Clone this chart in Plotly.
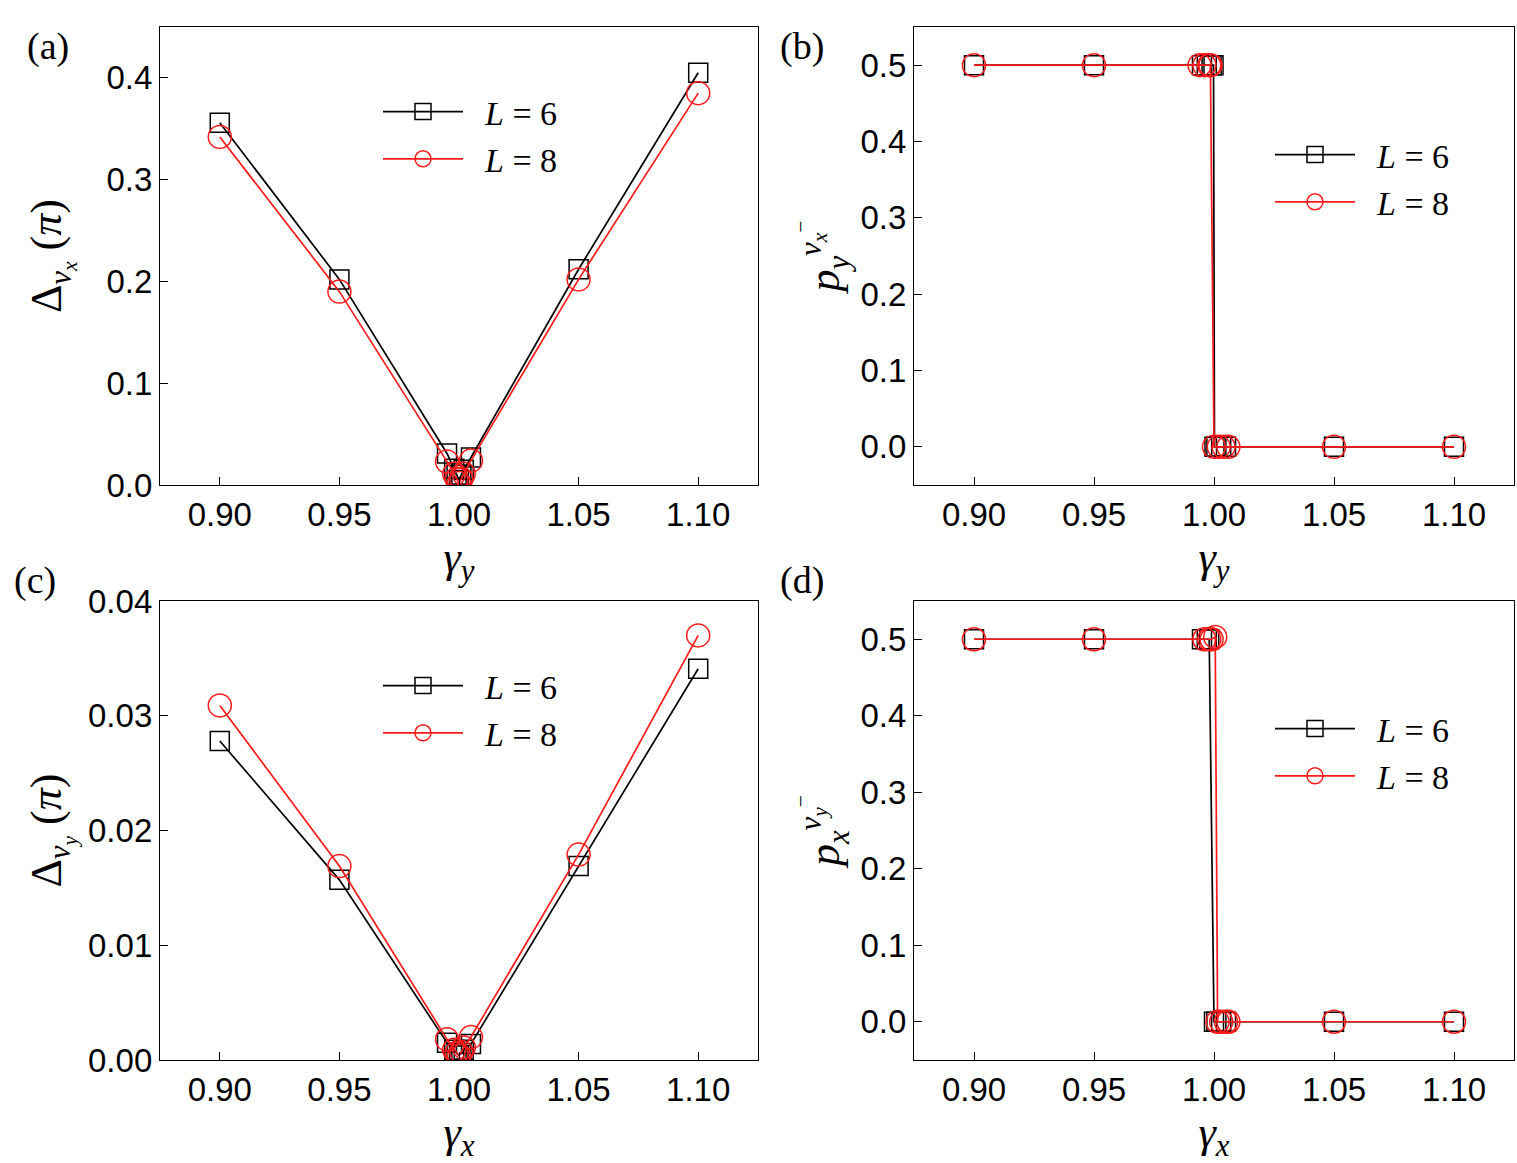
import plotly.graph_objects as go

# ---------------- data ----------------
gamma_a = [0.90, 0.95, 0.995, 0.998, 0.999, 1.000, 1.001, 1.002, 1.005, 1.05, 1.10]
a_L6 = [0.356, 0.202, 0.031, 0.016, 0.010, 0.005, 0.010, 0.015, 0.027, 0.212, 0.405]
a_L8 = [0.342, 0.190, 0.023, 0.011, 0.006, 0.002, 0.006, 0.011, 0.024, 0.202, 0.385]

gamma_b6 = [0.90, 0.95, 0.995, 0.997, 0.999, 0.9998, 1.0002, 1.001, 1.003, 1.005, 1.05, 1.10]
b_L6 = [0.5, 0.5, 0.5, 0.5, 0.5, 0.5, 0.0, 0.0, 0.0, 0.0, 0.0, 0.0]
gamma_b8 = [0.90, 0.95, 0.994, 0.996, 0.998, 0.9985, 1.000, 1.002, 1.004, 1.006, 1.05, 1.10]
b_L8 = [0.5, 0.5, 0.5, 0.5, 0.5, 0.5, 0.0, 0.0, 0.0, 0.0, 0.0, 0.0]

gamma_c = [0.90, 0.95, 0.995, 0.998, 0.999, 1.000, 1.001, 1.002, 1.005, 1.05, 1.10]
c_L6 = [0.0278, 0.0157, 0.0015, 0.0009, 0.0006, 0.0004, 0.0006, 0.0009, 0.0014, 0.0169, 0.0341]
c_L8 = [0.0309, 0.0169, 0.0018, 0.0009, 0.0006, 0.0004, 0.0007, 0.0011, 0.0020, 0.0179, 0.0370]

gamma_d6 = [0.90, 0.95, 0.995, 0.997, 0.998, 1.000, 1.001, 1.003, 1.005, 1.05, 1.10]
d_L6 = [0.5, 0.5, 0.5, 0.5, 0.5, 0.0, 0.0, 0.0, 0.0, 0.0, 0.0]
gamma_d8 = [0.90, 0.95, 0.996, 0.998, 0.999, 1.0005, 1.0015, 1.003, 1.005, 1.006, 1.05, 1.10]
d_L8 = [0.5, 0.5, 0.5, 0.5, 0.5, 0.503, 0.0, 0.0, 0.0, 0.0, 0.0, 0.0]

x_ticks = [0.90, 0.95, 1.00, 1.05, 1.10]
series_names = ["&nbsp;&nbsp;<i>L</i> = 6", "&nbsp;&nbsp;<i>L</i> = 8"]

# ---------------- figure ----------------
W, H = 1517, 1163
BLACK, RED = "#000000", "#ff1a1a"
TICKFONT = dict(family="Liberation Sans, Arial", size=33, color="black")
SERIF = "Liberation Serif, Times New Roman"

fig = go.Figure()

def px_x(p):
    return p / W

def px_y(p):
    return 1 - p / H

panels = [
    ("x", "y", gamma_a, a_L6, gamma_a, a_L8, "legend"),
    ("x2", "y2", gamma_b6, b_L6, gamma_b8, b_L8, "legend2"),
    ("x3", "y3", gamma_c, c_L6, gamma_c, c_L8, "legend3"),
    ("x4", "y4", gamma_d6, d_L6, gamma_d8, d_L8, "legend4"),
]

for xa, ya, x6, y6, x8, y8, lg in panels:
    fig.add_trace(go.Scatter(
        x=x6, y=y6, xaxis=xa, yaxis=ya, name=series_names[0], legend=lg,
        mode="lines+markers",
        line=dict(color=BLACK, width=1.7),
        marker=dict(symbol="square-open", size=19, color=BLACK, line=dict(width=1.5)),
    ))
    fig.add_trace(go.Scatter(
        x=x8, y=y8, xaxis=xa, yaxis=ya, name=series_names[1], legend=lg,
        mode="lines+markers",
        line=dict(color=RED, width=1.7),
        marker=dict(symbol="circle-open", size=23, color=RED, line=dict(width=1.5)),
    ))

left_dom = [px_x(160), px_x(758)]
right_dom = [px_x(914), px_x(1514)]
top_dom = [px_y(485), px_y(27)]
bot_dom = [px_y(1060), px_y(601)]

common_x = dict(
    range=[0.875, 1.125], tickvals=x_ticks, tickformat=".2f",
    ticks="inside", ticklen=8, tickwidth=1.3, tickcolor="black",
    showline=True, linecolor="black", linewidth=1.3, mirror=True,
    showgrid=False, zeroline=False, tickfont=TICKFONT, automargin=False,
    title=dict(font=dict(family=SERIF, size=44, color="black"), standoff=0),
)
common_y = dict(
    ticks="inside", ticklen=8, tickwidth=1.3, tickcolor="black",
    showline=True, linecolor="black", linewidth=1.3, mirror=True,
    showgrid=False, zeroline=False, tickfont=TICKFONT, automargin=False,
    title=dict(font=dict(family=SERIF, size=44, color="black")),
)

def merge(base, **kw):
    d = {k: (dict(v) if isinstance(v, dict) else v) for k, v in base.items()}
    for k, v in kw.items():
        if isinstance(v, dict) and k in d and isinstance(d[k], dict):
            d[k].update(v)
        else:
            d[k] = v
    return d

fig.update_layout(
    width=W, height=H,
    margin=dict(l=0, r=0, t=0, b=0),
    paper_bgcolor="white", plot_bgcolor="white",
    xaxis=merge(common_x, domain=left_dom, anchor="y", title=dict(text="<i>γ<sub>y</sub></i>")),
    yaxis=merge(common_y, domain=top_dom, anchor="x", range=[0, 0.45],
                tickvals=[0, 0.1, 0.2, 0.3, 0.4], tickformat=".1f",
                title=dict(text="Δ<sub><i>ν</i><sub><i>x</i></sub></sub> (<i>π</i>)", standoff=30)),
    xaxis2=merge(common_x, domain=right_dom, anchor="y2", title=dict(text="<i>γ<sub>y</sub></i>")),
    yaxis2=merge(common_y, domain=top_dom, anchor="x2", range=[-0.05, 0.55],
                 tickvals=[0, 0.1, 0.2, 0.3, 0.4, 0.5], tickformat=".1f",
                 title=dict(text="<i>p</i><sub><i>y</i></sub><sup><i>ν</i><sub><i>x</i></sub><sup>−</sup></sup>", standoff=6)),
    xaxis3=merge(common_x, domain=left_dom, anchor="y3", title=dict(text="<i>γ<sub>x</sub></i>")),
    yaxis3=merge(common_y, domain=bot_dom, anchor="x3", range=[0, 0.04],
                 tickvals=[0, 0.01, 0.02, 0.03, 0.04], tickformat=".2f",
                 title=dict(text="Δ<sub><i>ν</i><sub><i>y</i></sub></sub> (<i>π</i>)", standoff=12)),
    xaxis4=merge(common_x, domain=right_dom, anchor="y4", title=dict(text="<i>γ<sub>x</sub></i>")),
    yaxis4=merge(common_y, domain=bot_dom, anchor="x4", range=[-0.05, 0.55],
                 tickvals=[0, 0.1, 0.2, 0.3, 0.4, 0.5], tickformat=".1f",
                 title=dict(text="<i>p</i><sub><i>x</i></sub><sup><i>ν</i><sub><i>y</i></sub><sup>−</sup></sup>", standoff=6)),
    showlegend=True,
)

leg_common = dict(
    bgcolor="rgba(0,0,0,0)", borderwidth=0,
    font=dict(family=SERIF, size=34, color="black"),
    itemwidth=80, xanchor="left", yanchor="top", tracegroupgap=4,
)
fig.update_layout(
    legend=dict(leg_common, x=px_x(378), y=px_y(83)),
    legend2=dict(leg_common, x=px_x(1270), y=px_y(126)),
    legend3=dict(leg_common, x=px_x(378), y=px_y(657)),
    legend4=dict(leg_common, x=px_x(1270), y=px_y(700)),
)

labels = [("(a)", 48, 47), ("(b)", 802, 47), ("(c)", 35, 580), ("(d)", 802, 580)]
for txt, xp, yp in labels:
    fig.add_annotation(text=txt, x=px_x(xp), y=px_y(yp), xref="paper", yref="paper",
                       showarrow=False, xanchor="center", yanchor="middle",
                       font=dict(family=SERIF, size=38, color="black"))

fig.write_html("out.html")
